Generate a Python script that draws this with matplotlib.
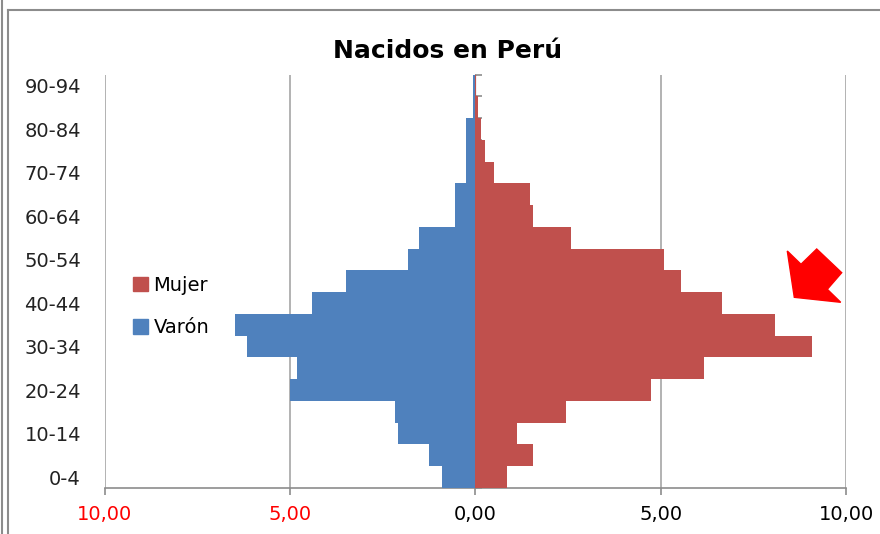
import matplotlib.pyplot as plt
import numpy as np
from matplotlib.lines import Line2D
from matplotlib.patches import Patch, Polygon

plt.rcParams['font.family'] = ['DejaVu Sans']

# Grupos de edad (de abajo hacia arriba)
edades = ['0-4', '5-9', '10-14', '15-19', '20-24', '25-29', '30-34', '35-39',
          '40-44', '45-49', '50-54', '55-59', '60-64', '65-69', '70-74',
          '75-79', '80-84', '85-89', '90-94']

# Porcentajes
varon = [0.89, 1.24, 2.09, 2.16, 4.99, 4.82, 6.15, 6.49, 4.40, 3.49,
         1.81, 1.53, 0.54, 0.54, 0.25, 0.25, 0.25, 0.07, 0.07]
mujer = [0.84, 1.54, 1.13, 2.45, 4.74, 6.16, 9.07, 8.09, 6.64, 5.53,
         5.08, 2.58, 1.54, 1.47, 0.49, 0.27, 0.14, 0.08, 0.02]

x_ticks = [-10, -5, 0, 5, 10]
x_labels = ['10,00', '5,00', '0,00', '5,00', '10,00']
x_label_colors = ['#FF0000', '#FF0000', 'black', 'black', 'black']

azul = '#4F81BD'
rojo = '#C0504D'
gris = '#8C8C8C'

W, H = 880, 534
fig = plt.figure(figsize=(W / 100, H / 100), dpi=100)
ax = fig.add_axes([104.5 / W, 1 - 488 / H, (846.3 - 104.5) / W, (488 - 74.7) / H])

y = np.arange(len(edades))
ax.barh(y, -np.array(varon), height=1.0, color=azul, zorder=3)
ax.barh(y, mujer, height=1.0, color=rojo, zorder=3)

ax.set_xlim(-10, 10)
ax.set_ylim(-0.5, len(edades) - 0.5)

# Rejilla vertical
for xv in x_ticks:
    if xv != 0:
        ax.axvline(xv, color='#A6A6A6', lw=1.2, zorder=1)

for s in ['left', 'right', 'top']:
    ax.spines[s].set_visible(False)
ax.spines['bottom'].set_color(gris)
ax.spines['bottom'].set_linewidth(1.2)

ax.set_xticks(x_ticks)
ax.set_xticklabels(x_labels, fontsize=14)
for lbl, c in zip(ax.get_xticklabels(), x_label_colors):
    lbl.set_color(c)
ax.tick_params(axis='x', length=5, color=gris, width=1.2, pad=7)

ax.set_yticks(y[::2])
ax.set_yticklabels(edades[::2], fontsize=14, color='#222222')
ax.tick_params(axis='y', length=0, pad=17)

# Eje central con marcas entre grupos
eje = ax.secondary_yaxis(0.5)
eje.set_yticks(np.arange(len(edades) + 1) - 0.5)
eje.set_yticklabels([])
eje.spines['left'].set_color(gris)
eje.spines['left'].set_linewidth(1.2)
eje.tick_params(length=5, color=gris, width=1.2)

ax.set_title('Nacidos en Perú', fontsize=18, fontweight='bold', pad=12, x=0.462)

handles = [Patch(color=rojo, label='Mujer'), Patch(color=azul, label='Varón')]
fig.legend(handles=handles, loc='center left', bbox_to_anchor=(133 / W, 1 - 306.5 / H),
           frameon=False, fontsize=14, handlelength=0.75, handleheight=0.75,
           handletextpad=0.3, labelspacing=1.2, borderpad=0, borderaxespad=0)

# Flecha roja
flecha = [(787.3, 251), (801, 264.3), (816.7, 249), (841.7, 272.7),
          (827.3, 289.3), (840.7, 302.3), (794.3, 297.3)]
fig.patches.append(Polygon([(px / W, 1 - py / H) for px, py in flecha], closed=True,
                           transform=fig.transFigure, color='#FF0000', zorder=10))

# Marco de la hoja
for xs, ys in [([1.5, 1.5], [0, H]), ([7.8, 7.8], [10, H]), ([7.8, W], [10, 10])]:
    fig.lines.append(Line2D([v / W for v in xs], [1 - v / H for v in ys],
                            transform=fig.transFigure, color=gris, lw=1.5))

fig.savefig('out.png', dpi=100)
